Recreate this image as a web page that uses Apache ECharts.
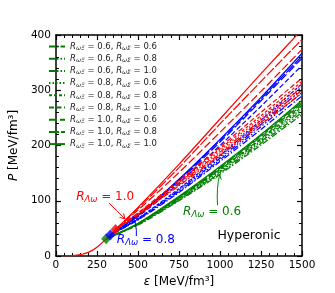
<!DOCTYPE html>
<html><head><meta charset="utf-8">
<script src="https://cdn.jsdelivr.net/npm/echarts/dist/echarts.min.js"></script>
<style>html,body{margin:0;padding:0;background:#fff}#c{width:335px;height:293px}</style>
</head><body><div id="c"></div>
<script>
// ---------- data ----------
const xTicks = [0, 250, 500, 750, 1000, 1250, 1500];
const yTicks = [0, 100, 200, 300, 400];
const legendCombos = [['0.6','0.6'],['0.6','0.8'],['0.6','1.0'],['0.8','0.6'],['0.8','0.8'],['0.8','1.0'],['1.0','0.6'],['1.0','0.8'],['1.0','1.0']];
// common nucleonic part
const lowEps = [50, 100, 150, 200, 250, 306, 331, 363];
const lowP   = [0, 0.5, 2.5, 7, 16, 31, 38, 48];
// R_Λω = 1.0 (red)
const redEps = [363, 500, 750, 1000, 1250, 1500];
const redP = [
  [48, 74, 127, 182, 238, 295],
  [48, 75, 129, 185, 242, 300],
  [48, 75, 131, 188, 246, 305],
  [48, 76, 133, 191, 250, 311],
  [48, 77, 135, 194, 254, 316],
  [48, 78, 137, 197, 260, 322],
  [48, 83, 151, 224, 298, 374],
  [48, 86, 160, 239, 316, 392],
  [48, 88, 166, 248, 330, 410]
];
// R_Λω = 0.8 (blue)
const blueEps = [331, 500, 750, 1000, 1250, 1500];
const blueP = [
  [38, 65, 115, 171, 229, 290],
  [38, 66, 117, 174, 234, 296],
  [38, 67, 119, 177, 238, 302],
  [38, 67, 121, 180, 242, 307],
  [38, 68, 122, 182, 246, 312],
  [38, 71, 132, 200, 271, 345],
  [38, 73, 136, 206, 281, 358],
  [38, 73, 138, 209, 284, 362],
  [38, 74, 139, 211, 287, 367]
];
// R_Λω = 0.6 (green)
const greenEps = [306, 500, 750, 1000, 1250, 1500];
const greenP = [
  [31, 56, 100, 148, 201, 256],
  [31, 57, 101, 150, 204, 260],
  [31, 57, 102, 152, 207, 264],
  [31, 58, 103, 154, 209, 267],
  [31, 58, 104, 156, 211, 270],
  [31, 58, 105, 157, 213, 273],
  [31, 59, 106, 159, 216, 276],
  [31, 59, 107, 160, 218, 279],
  [31, 59, 108, 162, 220, 282]
];
// onset markers
const onsetEps = [306, 331, 363];
const onsetP = [31, 38, 48];

// ---------- styles ----------
const RED = '#ff0000', BLUE = '#0000ff', GREEN = '#008000';
const dashes = [
  [6, 2, 1.5, 2],
  [6, 2, 1.5, 2, 1.5, 2],
  [6, 2, 1.5, 2, 1.5, 2, 1.5, 2],
  [1.5, 2],
  [3, 2],
  [5, 2.5],
  [8, 3],
  [10, 2],
  'solid'
];
const FONT = 'DejaVu Sans';

const chart = echarts.init(document.getElementById('c'), null, {renderer: 'canvas'});
const series = [];
function addGroup(eps, arr, color, prefix) {
  arr.forEach((vals, i) => {
    series.push({
      name: prefix + i, type: 'line', xAxisIndex: 0, yAxisIndex: 0,
      data: eps.map((e, k) => [e, vals[k]]),
      smooth: 0.3, symbol: 'none', animation: false,
      lineStyle: {color: color, width: 1.2, type: dashes[i]},
      itemStyle: {color: color}
    });
  });
}
addGroup(greenEps, greenP, GREEN, 'g');
addGroup(blueEps, blueP, BLUE, 'b');
addGroup(redEps, redP, RED, 'r');
series.push({
  name: 'low', type: 'line', data: lowEps.map((e, k) => [e, lowP[k]]),
  smooth: 0.4, symbol: 'none', animation: false,
  lineStyle: {color: RED, width: 1.2}
});
series.push({
  name: 'onset', type: 'scatter', animation: false,
  data: onsetEps.map((e, k) => ({value: [e, onsetP[k]], itemStyle: {color: [GREEN, BLUE, RED][k]}})),
  symbol: 'diamond', symbolSize: [10, 11], z: 5
});

const axisCommon = {
  type: 'value', min: 0,
  axisLine: {show: true, onZero: false, lineStyle: {color: '#000', width: 1.5}},
  axisTick: {show: true, inside: true, length: 5, lineStyle: {color: '#000', width: 1.2}},
  minorTick: {show: true, splitNumber: 5, length: 3, lineStyle: {color: '#000', width: 1}},
  splitLine: {show: false}
};

chart.setOption({
  animation: false,
  grid: {left: 42, right: 33, top: 35, bottom: 37, containLabel: false},
  legend: {
    orient: 'vertical', left: 48, top: 42, padding: 0,
    itemWidth: 16, itemHeight: 8, itemGap: 2.7,
    itemStyle: {opacity: 0},
    data: legendCombos.map((c, i) => 'g' + i),
    formatter: name => {
      const c = legendCombos[+name.slice(1)];
      return '{i|R}{s|ωΞ}{n| = ' + c[0] + ', }{i|R}{s|ωΣ}{n| = ' + c[1] + '}';
    },
    textStyle: {
      color: '#222', fontFamily: FONT, fontSize: 8.5,
      rich: {
        i: {fontFamily: FONT, fontStyle: 'italic', fontSize: 8.5, lineHeight: 10},
        s: {fontFamily: FONT, fontStyle: 'italic', fontSize: 6, verticalAlign: 'bottom', lineHeight: 6},
        n: {fontFamily: FONT, fontSize: 8.5, lineHeight: 10}
      }
    }
  },
  xAxis: [
    Object.assign({}, axisCommon, {
      max: 1500, interval: 250, position: 'bottom',
      axisLabel: {color: '#000', fontFamily: FONT, fontSize: 10.5, margin: 4,
        formatter: v => xTicks.includes(v) ? String(v) : ''},
      name: '{i|ε} [MeV/fm³]', nameLocation: 'middle', nameGap: 19,
      nameTextStyle: {color: '#000', fontFamily: FONT, fontSize: 12,
        rich: {i: {fontFamily: FONT, fontStyle: 'italic', fontSize: 12}}}
    }),
    Object.assign({}, axisCommon, {
      max: 1500, interval: 250, position: 'top', axisLabel: {show: false}
    })
  ],
  yAxis: [
    Object.assign({}, axisCommon, {
      max: 400, interval: 100, position: 'left',
      axisLabel: {color: '#000', fontFamily: FONT, fontSize: 10.5, margin: 5,
        formatter: v => yTicks.includes(v) ? String(v) : ''},
      name: '{i|P} [MeV/fm³]', nameLocation: 'middle', nameGap: 24, nameRotate: 90,
      nameTextStyle: {color: '#000', fontFamily: FONT, fontSize: 12,
        rich: {i: {fontFamily: FONT, fontStyle: 'italic', fontSize: 12}}}
    }),
    Object.assign({}, axisCommon, {
      max: 400, interval: 100, position: 'right', axisLabel: {show: false}
    })
  ],
  series: series
});

// ---------- annotations ----------
const px = (e, p) => chart.convertToPixel({gridIndex: 0}, [e, p]);
function label(e, p, sub, val, color) {
  const q = px(e, p);
  return {
    type: 'text', x: q[0], y: q[1], z: 20,
    style: {
      text: '{i|R}{s|' + sub + '}{n| = ' + val + '}',
      fill: color, align: 'center', verticalAlign: 'middle',
      rich: {
        i: {fontFamily: FONT, fontStyle: 'italic', fontSize: 12, fill: color, lineHeight: 14},
        s: {fontFamily: FONT, fontStyle: 'italic', fontSize: 8.5, fill: color, verticalAlign: 'bottom', lineHeight: 8},
        n: {fontFamily: FONT, fontSize: 12, fill: color, lineHeight: 14}
      }
    }
  };
}
function arrow(tail, ctrl, head, color) {
  const a = px(tail[0], tail[1]), c = px(ctrl[0], ctrl[1]), b = px(head[0], head[1]);
  const dx = b[0] - c[0], dy = b[1] - c[1];
  const L = Math.hypot(dx, dy) || 1, ux = dx / L, uy = dy / L;
  const hl = 5, hw = 2.8;
  const p1 = [b[0] - ux * hl - uy * hw, b[1] - uy * hl + ux * hw];
  const p2 = [b[0] - ux * hl + uy * hw, b[1] - uy * hl - ux * hw];
  return [
    {type: 'bezierCurve', z: 20, shape: {x1: a[0], y1: a[1], x2: b[0], y2: b[1], cpx1: c[0], cpy1: c[1]},
      style: {stroke: color, lineWidth: 1, fill: null}},
    {type: 'polyline', z: 20, shape: {points: [p1, b, p2]}, style: {stroke: color, lineWidth: 1, fill: null}}
  ];
}
const graphics = [
  label(300, 107, 'Λω', '1.0', RED),
  label(548, 29, 'Λω', '0.8', BLUE),
  label(952, 80, 'Λω', '0.6', GREEN),
  ...arrow([323, 96], [372, 82], [421, 67], RED),
  ...arrow([490, 36], [494, 56], [470, 72], BLUE),
  ...arrow([985, 92], [978, 122], [998, 148], GREEN),
  (() => { const q = px(1177, 36); return {type: 'text', x: q[0], y: q[1], z: 20,
    style: {text: 'Hyperonic', fill: '#000', font: '12.5px "DejaVu Sans"', align: 'center', verticalAlign: 'middle'}}; })()
];
chart.setOption({graphic: graphics});
</script>
</body></html>
